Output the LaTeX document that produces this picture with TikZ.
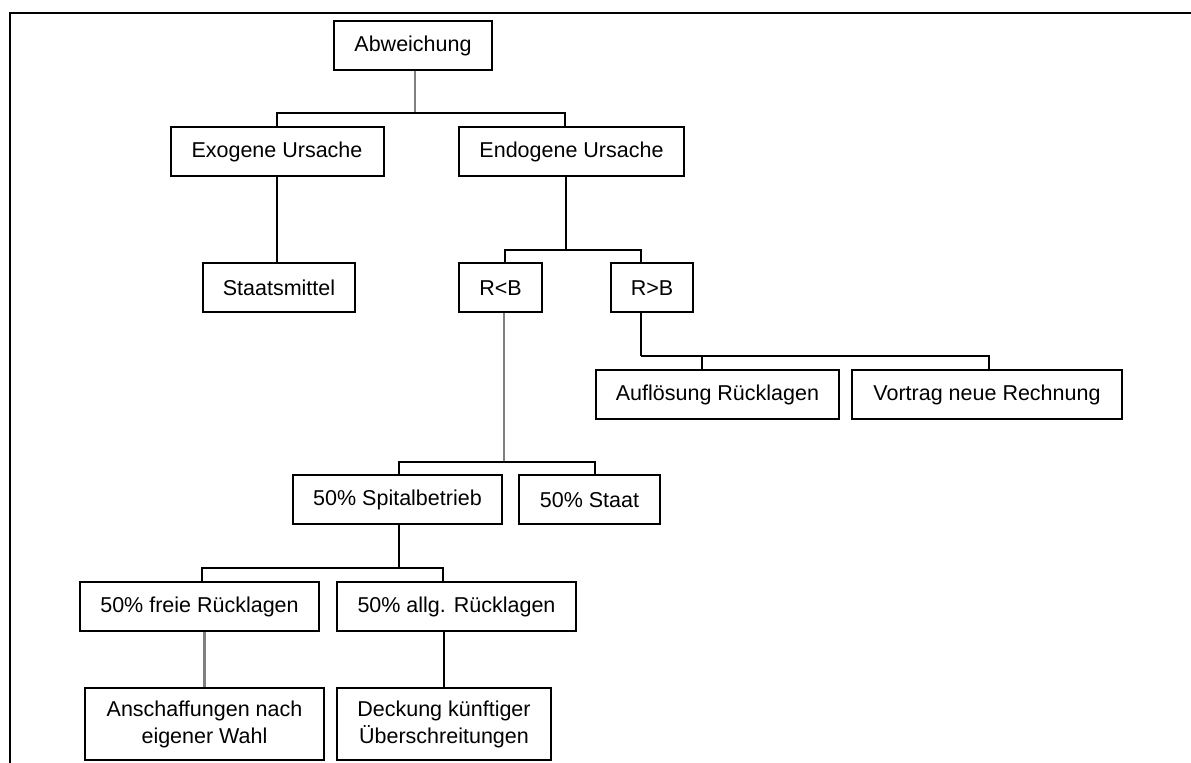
\documentclass[tikz,border=0pt]{standalone}
\usepackage{fontspec}
\setmainfont{Liberation Sans}
\usepackage{tikz}
\usetikzlibrary{positioning}
\definecolor{lineColor}{RGB}{0, 0, 0}
\definecolor{stemGrey}{RGB}{128, 128, 128}
\definecolor{boxFill}{RGB}{255, 255, 255}
\tikzset{
    org_box/.style={
        draw=lineColor,
        line width=1pt,
        fill=boxFill,
        inner sep=0pt,
        minimum height=24.5pt,
        align=center,
        font=\fontsize{10.75}{13.5}\selectfont
    },
    org_edge/.style={
        draw=lineColor,
        line width=1pt
    },
    org_edge_grey/.style={
        org_edge,
        draw=stemGrey,
        line width=1.1pt
    },
    frame_line/.style={
        draw=lineColor,
        line width=1pt
    }
}
\begin{document}
\begin{tikzpicture}[x=0.5pt, y=-0.5pt]
    \useasboundingbox (0,0) rectangle (1191,763);
    \draw[frame_line] (1191,13) -- (10,13) -- (10,763);

    \node[org_box, minimum width=79pt] (abw) at (413,46) {Abweichung};
    \node[org_box, minimum width=106.5pt] (exo) at (277,152) {Exogene Ursache};
    \node[org_box, minimum width=112.5pt] (endo) at (571.5,152) {Endogene Ursache};
    \node[org_box, minimum width=76pt] (staats) at (279,288) {Staatsmittel};
    \node[org_box, minimum width=41.5pt] (rlt) at (500.5,288) {R<B};
    \node[org_box, minimum width=41pt] (rgt) at (652,288) {R>B};
    \node[org_box, minimum width=121.5pt] (aufl) at (717.5,395) {Auflösung Rücklagen};
    \node[org_box, minimum width=135pt] (vortrag) at (987,395) {Vortrag neue Rechnung};
    \node[org_box, minimum width=104.5pt] (spital) at (397.5,500) {50\% Spitalbetrieb};
    \node[org_box, minimum width=70.5pt] (staat) at (589.5,500) {50\% Staat};
    \node[org_box, minimum width=119.5pt] (freie) at (199.5,607) {50\% freie Rücklagen};
    \node[org_box, minimum width=119.5pt] (allg) at (456.5,607) {50\% allg. Rücklagen};
    \node[org_box, minimum width=119.5pt, minimum height=36pt] (ansch) at (204.5,724) {Anschaffungen nach\\eigener Wahl};
    \node[org_box, minimum width=107pt, minimum height=36pt] (deck) at (444,724) {Deckung künftiger\\Überschreitungen};

    % forks of the tree
    \coordinate (abw_fork) at (415,113);
    \coordinate (endo_fork) at (566,250);
    \coordinate (rgt_fork) at (641,356);
    \coordinate (rlt_fork) at (504,462);
    \coordinate (spital_fork) at (399,568);

    \draw[org_edge_grey] (abw.south -| abw_fork) -- (abw_fork);
    \draw[org_edge]
        (abw_fork) -| (exo.north)
        (abw_fork) -| ([xshift=-3.25pt]endo.north);
    \draw[org_edge] (exo.south) -- (exo.south |- staats.north);
    \draw[org_edge]
        (endo.south -| endo_fork) -- (endo_fork)
        (endo_fork) -| ([xshift=2.25pt]rlt.north)
        (endo_fork) -| ([xshift=-5.5pt]rgt.north);
    \draw[org_edge]
        (rgt.south -| rgt_fork) -- (rgt_fork)
        (rgt_fork) -| ([xshift=-7.75pt]aufl.north)
        (rgt_fork) -| ([xshift=1pt]vortrag.north);
    \draw[org_edge_grey] (rlt.south -| rlt_fork) -- (rlt_fork);
    \draw[org_edge]
        (rlt_fork) -| ([xshift=0.75pt]spital.north)
        (rlt_fork) -| ([xshift=2.75pt]staat.north);
    \draw[org_edge]
        (spital.south -| spital_fork) -- (spital_fork)
        (spital_fork) -| ([xshift=1.25pt]freie.north)
        (spital_fork) -| ([xshift=-6.75pt]allg.north);
    \draw[org_edge_grey] (ansch.north |- freie.south) -- (ansch.north);
    \draw[org_edge] (deck.north |- allg.south) -- (deck.north);
\end{tikzpicture}
\end{document}
